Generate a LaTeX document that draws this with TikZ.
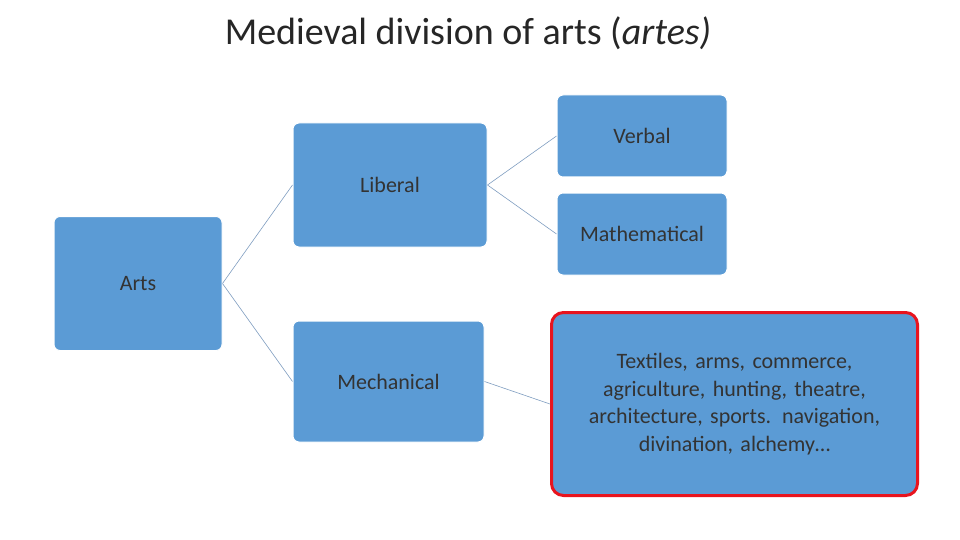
\documentclass[tikz,border=0pt]{standalone}
\usepackage{fontspec}
\setmainfont{Carlito}
\definecolor{boxblue}{HTML}{5B9BD5}
\definecolor{linec}{HTML}{7F9DC0}
\definecolor{redb}{HTML}{E8141E}
\begin{document}
\begin{tikzpicture}[x=1pt,y=-1pt,
  bx/.style={draw=white,line width=1pt,fill=boxblue,rounded corners=6pt,inner sep=0pt,text=black!80,font=\fontsize{22}{26}\selectfont,align=center},
  conn/.style={draw=linec,line width=0.6pt}]
\useasboundingbox (0,0) rectangle (960,540);
\node[font=\fontsize{38}{44}\selectfont,text=black!85] (title) at (468,33) {Medieval division of arts (\textit{artes)}};
\node[bx,minimum width=168,minimum height=134] (arts) at (138,283.5) {Arts};
\node[bx,minimum width=194,minimum height=124] (lib) at (390,185) {Liberal};
\node[bx,minimum width=191,minimum height=121] (mech) at (388.5,381.5) {Mechanical};
\node[bx,minimum width=170,minimum height=82] (verb) at (642,136) {Verbal};
\node[bx,minimum width=170,minimum height=82] (math) at (642,234) {Mathematical};
\node[bx,draw=redb,line width=3pt,rounded corners=12pt,minimum width=366,minimum height=183,text width=360,font=\fontsize{22}{27.5}\selectfont] (rest) at (734.5,404) {Textiles, arms, commerce,\\agriculture, hunting, theatre,\\architecture, sports. navigation,\\divination, alchemy\dots};
\draw[conn] (arts.east) -- (lib.west);
\draw[conn] (arts.east) -- (mech.west);
\draw[conn] (lib.east) -- (verb.west);
\draw[conn] (lib.east) -- (math.west);
\draw[conn] (mech.east) -- (rest.west);
\end{tikzpicture}
\end{document}
